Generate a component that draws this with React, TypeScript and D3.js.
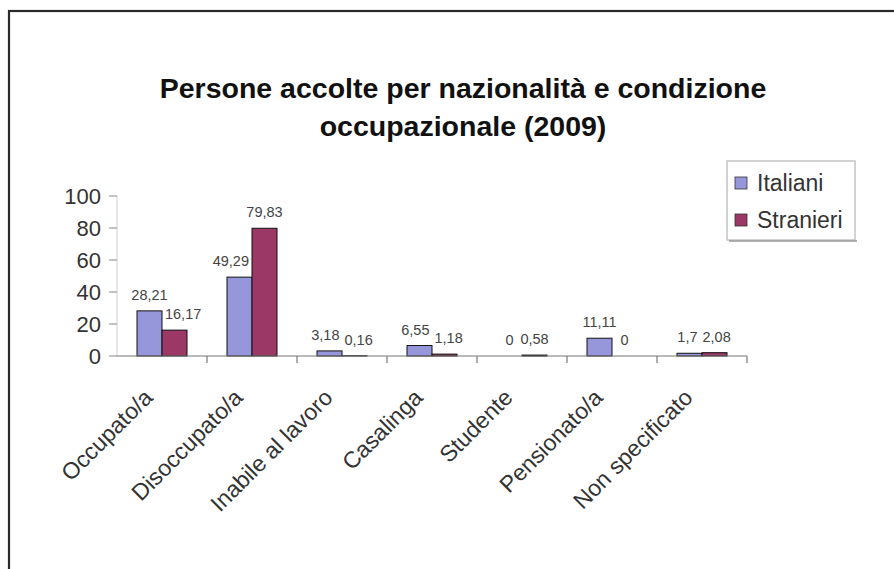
import React from "react";
import * as d3 from "d3";

const categories = [
  "Occupato/a",
  "Disoccupato/a",
  "Inabile al lavoro",
  "Casalinga",
  "Studente",
  "Pensionato/a",
  "Non specificato",
];
const seriesNames = ["Italiani", "Stranieri"];
const italiani = [28.21, 49.29, 3.18, 6.55, 0, 11.11, 1.7];
const stranieri = [16.17, 79.83, 0.16, 1.18, 0.58, 0, 2.08];
const yTicks = [0, 20, 40, 60, 80, 100];
const titleLines = ["Persone accolte per nazionalità e condizione", "occupazionale (2009)"];

const colors = ["#9696da", "#9b3865"];
const FONT = "'Liberation Sans', Arial, sans-serif";
const LABEL_FS = 14.5;

const fmt = (v: number) => (v === 0 ? "0" : String(v).replace(".", ","));
const textW = (s: string, fs: number) =>
  s.split("").reduce((a, ch) => a + (ch === "," ? 0.278 : 0.556), 0) * fs;

export default function App() {
  const W = 894;
  const H = 569;
  const x0 = 117;
  const x1 = 747;
  const yTop = 196;
  const yBot = 356;

  const x = d3.scaleBand<string>().domain(categories).range([x0, x1]).paddingInner(0).paddingOuter(0);
  const inner = d3.scaleBand<string>().domain(seriesNames).range([20, 70]);
  const y = d3.scaleLinear().domain([0, 100]).range([yBot, yTop]);
  const series = [italiani, stranieri];

  // data label placement: avoid neighbouring bar and the other label of the pair
  const labels: { key: string; x: number; y: number; t: string }[] = [];
  categories.forEach((c, ci) => {
    const pair = series.map((vals, si) => {
      const bx = (x(c) as number) + (inner(seriesNames[si]) as number);
      const t = fmt(vals[ci]);
      return {
        key: `l${si}-${ci}`,
        bx,
        top: y(vals[ci]),
        x: bx + inner.bandwidth() / 2,
        y: y(vals[ci]) - 11,
        t,
        w: textW(t, LABEL_FS),
      };
    });
    const [a, b] = pair;
    // a (left) vs bar b
    if (b.top < a.y) {
      const over = a.x + a.w / 2 - (b.bx - 3);
      if (over > 0) a.x -= over;
    }
    // b (right) vs bar a
    const aRight = a.bx + inner.bandwidth();
    if (a.top < b.y) {
      const over = aRight + 3 - (b.x - b.w / 2);
      if (over > 0) b.x += over;
    }
    const vertOverlap = Math.abs(a.y - b.y) < LABEL_FS;
    const gap = b.x - b.w / 2 - (a.x + a.w / 2);
    if (vertOverlap && gap < 5) {
      const shift = (5 - gap) / 2;
      a.x -= shift;
      b.x += shift;
    }
    pair.forEach((p) => labels.push(p));
  });

  return (
    <svg width={W} height={H} style={{ position: "absolute", left: 0, top: 0, background: "#fff" }} fontFamily={FONT}>
      <rect x={0} y={0} width={W} height={H} fill="#fff" />
      <rect x={9} y={11} width={W + 20} height={H + 20} fill="none" stroke="#2a2a2a" strokeWidth={2.2} />

      {titleLines.map((t, i) => (
        <text key={i} x={463} y={98 + i * 38} textAnchor="middle" fontSize={28.5} fontWeight="bold" fill="#111">
          {t}
        </text>
      ))}

      {/* y axis */}
      <line x1={x0} x2={x0} y1={yTop} y2={yBot} stroke="#cfcfcf" strokeWidth={1} />
      {yTicks.map((t) => (
        <g key={t}>
          <line x1={x0 - 8} x2={x0} y1={y(t)} y2={y(t)} stroke="#999" strokeWidth={1.2} />
          <text x={101} y={y(t)} dy="0.36em" textAnchor="end" fontSize={22} fill="#333">
            {t}
          </text>
        </g>
      ))}

      {/* bars */}
      {series.map((vals, si) =>
        vals.map((v, ci) => {
          const bx = (x(categories[ci]) as number) + (inner(seriesNames[si]) as number);
          const bw = inner.bandwidth();
          return (
            <rect
              key={`${si}-${ci}`}
              x={bx}
              y={y(v)}
              width={bw}
              height={Math.max(0, yBot - y(v))}
              fill={colors[si]}
              stroke="#111"
              strokeWidth={1}
            />
          );
        })
      )}

      {/* x axis */}
      <line x1={x0} x2={x1} y1={yBot} y2={yBot} stroke="#777" strokeWidth={1.2} />
      {categories.map((c, i) =>
        i === 0 ? null : (
          <line key={c} x1={x(c) as number} x2={x(c) as number} y1={yBot} y2={yBot + 7} stroke="#777" strokeWidth={1.2} />
        )
      )}
      <line x1={x1} x2={x1} y1={yBot} y2={yBot + 7} stroke="#777" strokeWidth={1.2} />

      {/* data labels */}
      {labels.map((l) => (
        <text key={l.key} x={l.x} y={l.y} textAnchor="middle" fontSize={LABEL_FS} fill="#444">
          {l.t}
        </text>
      ))}

      {/* category labels */}
      {categories.map((c) => {
        const cx = (x(c) as number) + x.bandwidth() / 2 - 8;
        const cy = 399;
        return (
          <text key={c} x={cx} y={cy} textAnchor="end" fontSize={23} fill="#333" transform={`rotate(-45, ${cx}, ${cy})`}>
            {c}
          </text>
        );
      })}

      {/* legend */}
      <rect x={727} y={161} width={128} height={79} fill="#fff" stroke="#c4c4c4" strokeWidth={1.5} />
      <line x1={729} x2={857} y1={241} y2={241} stroke="#999" strokeWidth={1.5} />
      {seriesNames.map((s, i) => (
        <g key={s}>
          <rect x={735} y={177 + i * 37} width={12} height={12} fill={colors[i]} stroke="#333" strokeWidth={0.8} />
          <text x={757} y={183 + i * 37} dy="0.36em" fontSize={23} fill="#333">
            {s}
          </text>
        </g>
      ))}
    </svg>
  );
}
